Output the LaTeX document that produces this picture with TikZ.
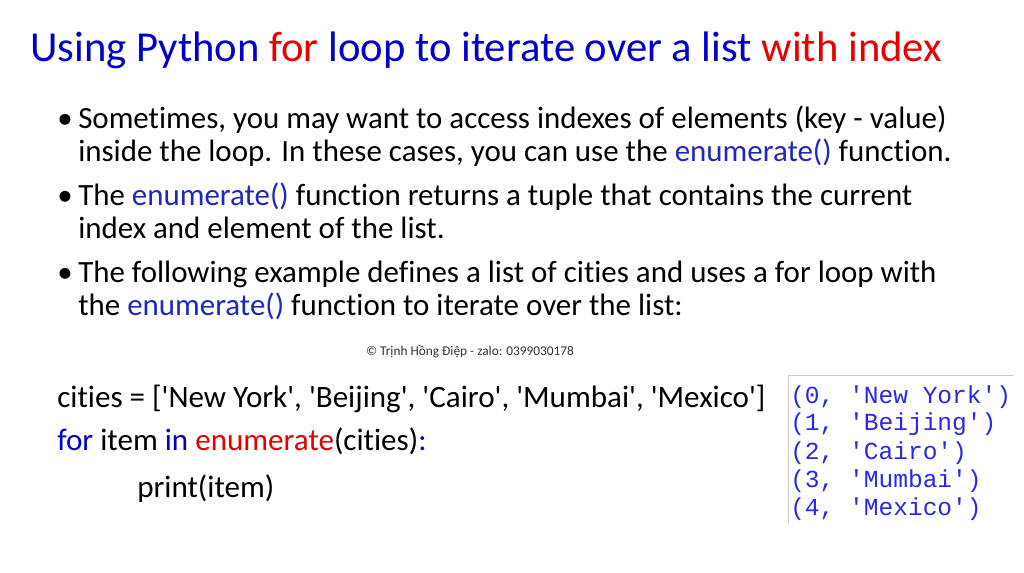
\documentclass[tikz,border=0pt]{standalone}
\usepackage{fontspec}
\setmainfont{Carlito}[Ligatures={NoCommon}]
\newfontfamily\outfont{Liberation Mono}
\usetikzlibrary{positioning}
\definecolor{kwblue}{RGB}{0,0,200}
\definecolor{kwred}{RGB}{230,0,0}
\definecolor{fnblue}{RGB}{30,40,190}
\definecolor{outblue}{RGB}{40,40,230}
\newcommand{\q}{\textquotesingle}
\begin{document}
\begin{tikzpicture}[x=0.75pt,y=-0.75pt,
  line/.style={anchor=base west,inner sep=0pt,font=\fontsize{23.2}{28}\selectfont},
  code/.style={anchor=base west,inner sep=0pt,font=\fontsize{23.3}{28}\selectfont},
  outl/.style={anchor=base west,inner sep=0pt,text=outblue,font=\outfont\fontsize{18.4}{22}\selectfont}]
\useasboundingbox[fill=white] (0,0) rectangle (1024,573);
% title
\node[anchor=base west,inner sep=0pt,font=\fontsize{32}{38}\selectfont] (title) at (30,62)
  {\textcolor{kwblue}{Using Python} \textcolor{kwred}{for} \textcolor{kwblue}{loop to iterate over a list} \textcolor{kwred}{with index}};
% bullets
\node[line] (b1) at (57,129) {\textbullet};
\node[line] (l1) at (78,129) {Sometimes, you may want to access indexes of elements (key - value)};
\node[line] (l2) at (78,162) {inside the loop. In these cases, you can use the \textcolor{fnblue}{enumerate()} function.};
\node[line] (b2) at (57,206) {\textbullet};
\node[line] (l3) at (78,206) {The \textcolor{fnblue}{enumerate()} function returns a tuple that contains the current};
\node[line] (l4) at (78,239) {index and element of the list.};
\node[line] (b3) at (57,283) {\textbullet};
\node[line] (l5) at (78,283) {The following example defines a list of cities and uses a for loop with};
\node[line] (l6) at (78,316) {the \textcolor{fnblue}{enumerate()} function to iterate over the list:};
\node[anchor=base,inner sep=0pt,font=\fontsize{10}{12}\selectfont,text=black!80] (copy) at (470,356)
  {© Trịnh Hồng Điệp - zalo: 0399030178};
% code
\node[code] (c1) at (57,407) {cities = [\q New York\q, \q Beijing\q, \q Cairo\q, \q Mumbai\q, \q Mexico\q]};
\node[code] (c2) at (57,450) {\textcolor{kwblue}{for} item \textcolor{kwblue}{in} \textcolor{kwred}{enumerate}(cities)\textcolor{kwblue}{:}};
\node[code] (c3) at (137,497) {print(item)};
% output
\draw[black!20] (788,523) -- (788,375) -- (1013,375);
\node[outl] (o0) at (790,403) {(0, 'New York')};
\node[outl] (o1) at (790,431) {(1, 'Beijing')};
\node[outl] (o2) at (790,459) {(2, 'Cairo')};
\node[outl] (o3) at (790,487) {(3, 'Mumbai')};
\node[outl] (o4) at (790,515) {(4, 'Mexico')};
\end{tikzpicture}
\end{document}
